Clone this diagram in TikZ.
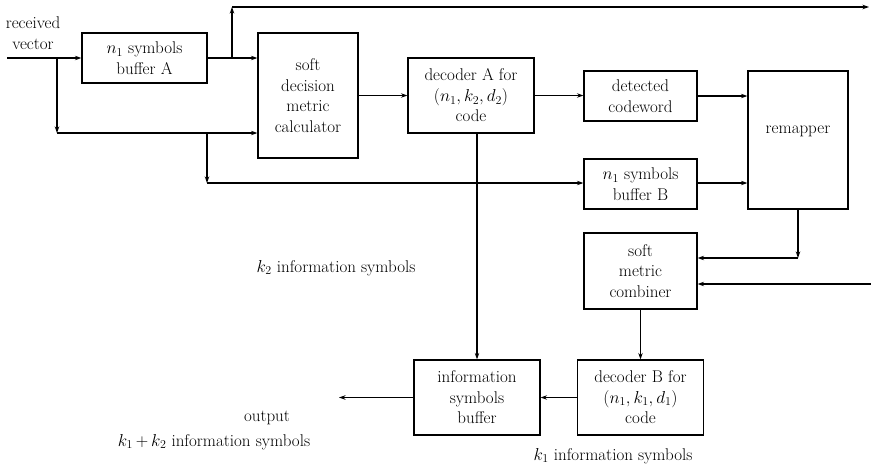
\documentclass[tikz,border=0pt]{standalone}
\usetikzlibrary{arrows.meta}
\begin{document}
\begin{tikzpicture}[x=1pt,y=-1pt,
  every node/.style={font=\fontsize{17}{20.5}\selectfont},
  blk/.style={draw, line width=1.2pt, align=center, inner sep=0pt},
  lbl/.style={inner sep=0pt, align=center},
  conn/.style={line width=1.1pt, -{Stealth[length=6.5pt,width=4.5pt]}}]
\useasboundingbox (0,0) rectangle (871,466);
% blocks
\node[blk, minimum width=125, minimum height=50] (bufA) at (144.5,58) {$n_1$ symbols\\buffer A};
\node[blk, minimum width=100, minimum height=125] (soft) at (308,95.5) {soft\\decision\\metric\\calculator};
\node[blk, minimum width=126, minimum height=75] (decA) at (471,95.5) {decoder A for\\$(n_1,k_2,d_2)$\\code};
\node[blk, minimum width=113, minimum height=50] (det) at (640.5,96) {detected\\codeword};
\node[blk, minimum width=100, minimum height=138, text depth=20pt] (remap) at (798,140) {remapper};
\node[blk, minimum width=113, minimum height=50] (bufB) at (640.5,184) {$n_1$ symbols\\buffer B};
\node[blk, minimum width=113, minimum height=76] (comb) at (640.5,271) {soft\\metric\\combiner};
\node[blk, minimum width=126, minimum height=75] (decB) at (640.5,397.5) {decoder B for\\$(n_1,k_1,d_1)$\\code};
\node[blk, minimum width=126, minimum height=75] (info) at (477,397.5) {information\\symbols\\buffer};
% labels
\node[lbl] (rv) at (33,33) {received\\vector};
\node[lbl] (k2) at (336,268) {$k_2$ information symbols};
\node[lbl] (out) at (267,418) {output};
\node[lbl] (k12) at (214,442) {$k_1\,{+}\,k_2$ information symbols};
\node[lbl] (k1) at (613,456) {$k_1$ information symbols};
% coordinates
\coordinate (in) at (7,58);
\coordinate (j1) at (57,58);
\coordinate (c1) at (57,133);
\coordinate (j2) at (207,133);
\coordinate (c2) at (207,183);
\coordinate (j3) at (232,58);
\coordinate (c3) at (232,7);
\coordinate (topend) at (869,7);
\coordinate (c4) at (798,258);
\coordinate (rin) at (871,284);
\coordinate (outend) at (339,397.5);
% connectors
\draw[conn] (in) -- (bufA.west);
\draw[conn] (j1) -- (c1);
\draw[conn] (c1) -- (c1 -| soft.west);
\draw[conn] (bufA.east) -- (bufA.east -| soft.west);
\draw[conn] (j3) -- (c3);
\draw[conn] (c3) -- (topend);
\draw[conn] (j2) -- (c2);
\draw[conn] (c2) -- (c2 -| bufB.west);
\draw[conn] (soft.east) -- (soft.east -| decA.west);
\draw[conn] (decA.east) -- (decA.east -| det.west);
\draw[conn] (det.east) -- (det.east -| remap.west);
\draw[conn] (bufB.east |- c2) -- (c2 -| remap.west);
\draw[conn] (remap.south) -- (c4);
\draw[conn] (c4) -- (c4 -| comb.east);
\draw[conn] (rin) -- (rin -| comb.east);
\draw[conn] (comb.south) -- (decB.north);
\draw[conn] (decA.south -| info.north) -- (info.north);
\draw[conn] (decB.west) -- (info.east);
\draw[conn] (info.west) -- (outend);
\end{tikzpicture}
\end{document}
